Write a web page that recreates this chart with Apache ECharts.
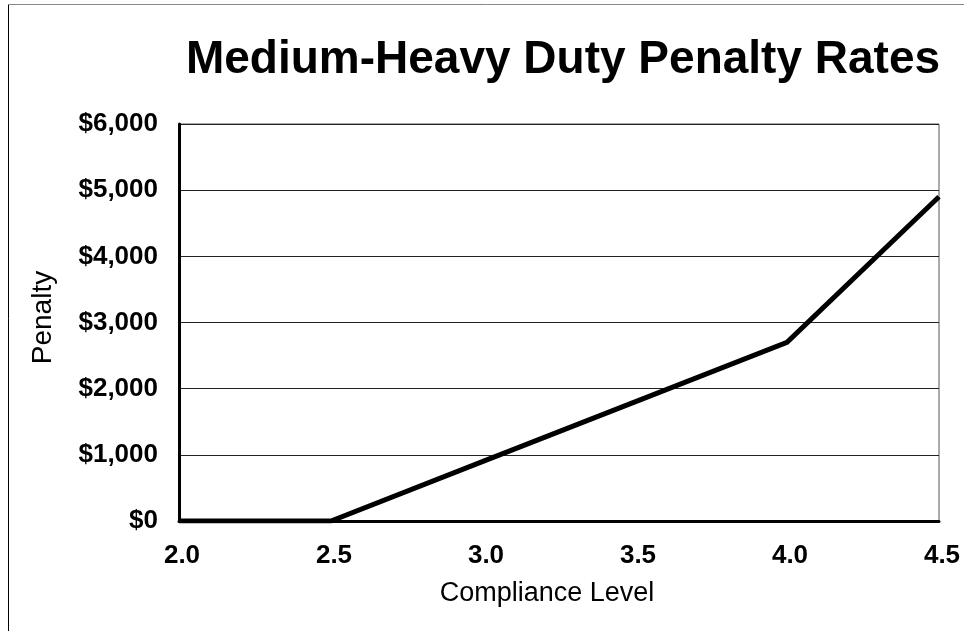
<!DOCTYPE html>
<html>
<head>
<meta charset="utf-8">
<script src="https://cdn.jsdelivr.net/npm/echarts@6/dist/echarts.min.js"></script>
<style>
html,body{margin:0;padding:0;background:#fff;}
#chart{width:964px;height:631px;}
</style>
</head>
<body>
<div id="chart"></div>
<script>
const titleText = 'Medium-Heavy Duty Penalty Rates';
const xAxisName = 'Compliance Level';
const yAxisName = 'Penalty';
const complianceLevels = [2.0, 2.5, 3.0, 3.5, 4.0, 4.5];
const penaltyValues = [0, 0, 900, 1800, 2700, 4900];

const seriesData = complianceLevels.map((x, i) => [x, penaltyValues[i]]);
const FONT = '"Liberation Sans", Arial, sans-serif';

const chart = echarts.init(document.getElementById('chart'), null, {renderer: 'canvas'});
chart.setOption({
  animation: false,
  backgroundColor: '#fff',
  title: {
    text: titleText,
    left: 558,
    textAlign: 'center',
    top: 32,
    textStyle: {fontFamily: FONT, fontSize: 46, fontWeight: 'bold', color: '#000'}
  },
  graphic: [
    {type: 'line', shape: {x1: 8.5, y1: 4.5, x2: 8.5, y2: 640}, style: {stroke: '#000', lineWidth: 1}},
    {type: 'line', shape: {x1: 8.5, y1: 4.5, x2: 970, y2: 4.5}, style: {stroke: '#888', lineWidth: 1}}
  ],
  grid: {
    left: 179, right: 25, top: 124, bottom: 110,
    show: true, borderColor: '#555', borderWidth: 1, containLabel: false
  },
  xAxis: {
    type: 'value',
    min: 2.0, max: 4.5, interval: 0.5,
    name: xAxisName,
    nameLocation: 'middle',
    nameGap: 59,
    nameTextStyle: {fontFamily: FONT, fontSize: 27, color: '#000', padding: [0, 24, 0, 0]},
    axisLine: {show: true, onZero: false, lineStyle: {color: '#000', width: 3}},
    axisTick: {show: false},
    splitLine: {show: false},
    axisLabel: {
      margin: 22,
      fontFamily: FONT, fontSize: 26, fontWeight: 'bold', color: '#000',
      padding: [0, 0, 0, 6],
      formatter: v => v.toFixed(1)
    }
  },
  yAxis: {
    type: 'value',
    min: 0, max: 6000, interval: 1000,
    name: yAxisName,
    nameLocation: 'middle',
    nameRotate: 90,
    nameGap: 122,
    nameTextStyle: {fontFamily: FONT, fontSize: 28, color: '#000', padding: [0, 0, 0, 10]},
    axisLine: {show: true, lineStyle: {color: '#000', width: 3}},
    axisTick: {show: false},
    splitLine: {show: true, lineStyle: {color: '#222', width: 1}},
    axisLabel: {
      margin: 21,
      fontFamily: FONT, fontSize: 26, fontWeight: 'bold', color: '#000',
      formatter: v => '$' + v.toLocaleString('en-US')
    }
  },
  series: [{
    type: 'line',
    data: seriesData,
    showSymbol: false,
    symbol: 'none',
    lineStyle: {color: '#000', width: 5, join: 'miter'},
    z: 3
  }]
});
</script>
</body>
</html>
